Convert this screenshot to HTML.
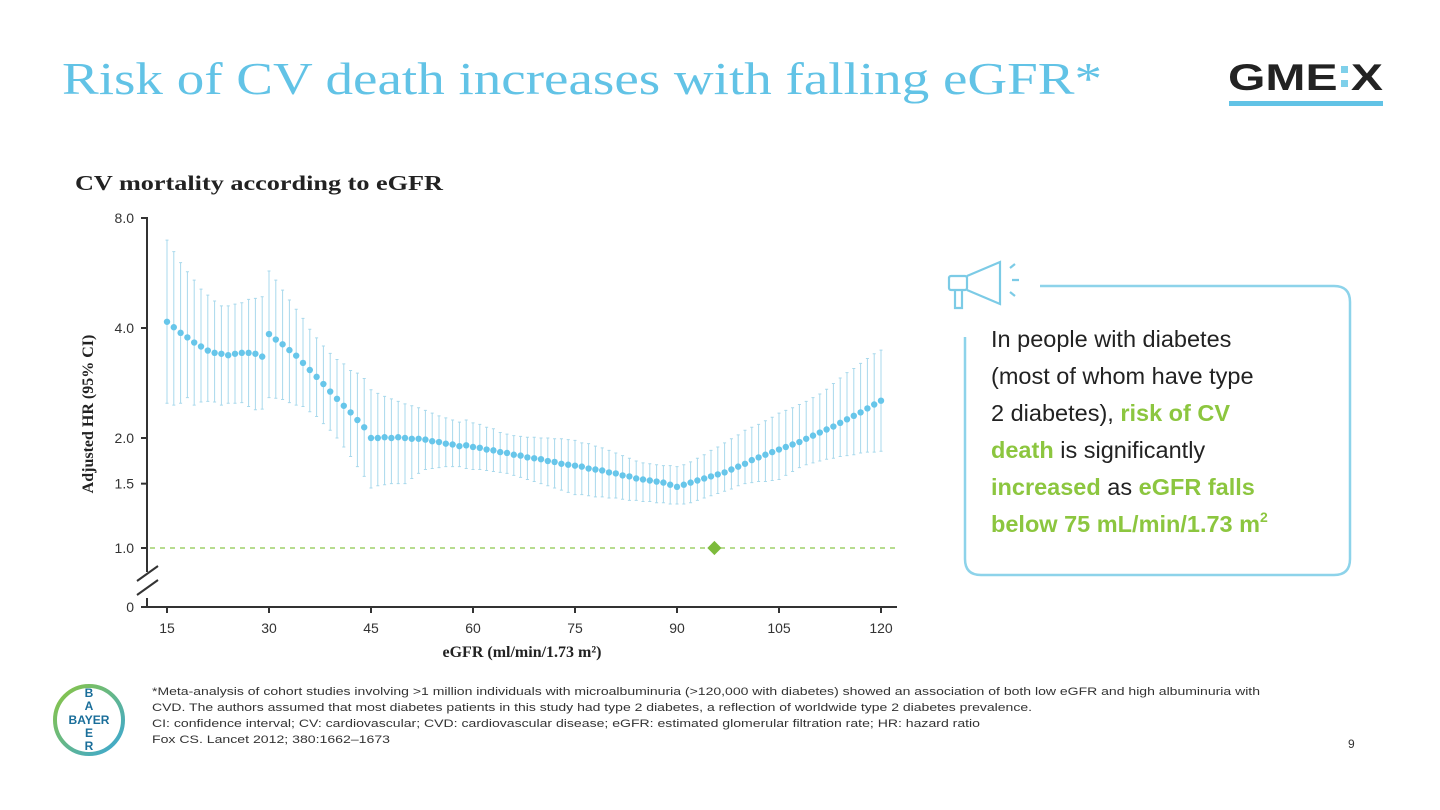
<!DOCTYPE html>
<html><head><meta charset="utf-8"><style>
body{margin:0;background:#fff;width:1440px;height:810px;overflow:hidden}
svg{display:block}
</style></head><body>
<svg id="s" width="1440" height="810" viewBox="0 0 1440 810" xmlns="http://www.w3.org/2000/svg" font-family="Liberation Sans, sans-serif">
<defs><linearGradient id="bg" x1="0" y1="0" x2="1" y2="1"><stop offset="0" stop-color="#8cc63f"/><stop offset="1" stop-color="#3aa7d8"/></linearGradient></defs>
<text x="62" y="94" font-family="Liberation Serif, serif" font-size="46" fill="#62c3e6" textLength="1040" lengthAdjust="spacingAndGlyphs">Risk of CV death increases with falling eGFR*</text>
<g>
<text x="1228" y="90" font-size="37" font-weight="bold" fill="#222" textLength="155" lengthAdjust="spacingAndGlyphs">GME X</text>
<rect x="1341" y="66" width="7" height="7" fill="#7fd0ea"/><rect x="1341" y="80" width="7" height="7" fill="#7fd0ea"/>
<rect x="1229" y="101" width="154" height="5" fill="#62c3e6"/>
</g>
<text x="75" y="190" font-family="Liberation Serif, serif" font-weight="bold" font-size="21" fill="#222" textLength="368" lengthAdjust="spacingAndGlyphs">CV mortality according to eGFR</text>
<g id="chart"></g>
<g>
<path d="M1040 286 H1334 Q1350 286 1350 302 V559 Q1350 575 1334 575 H981 Q965 575 965 559 V337" fill="none" stroke="#8dd3ea" stroke-width="2.5"/>
<g fill="none" stroke="#7ccbe6" stroke-width="2.2">
<rect x="949" y="276" width="18" height="14" rx="2"/><path d="M967 276 L1000 262 V304 L967 290"/><path d="M955 290 V308 H962 V290"/><path d="M1010 268 L1015 264 M1012 280 H1019 M1010 292 L1015 296"/>
</g>
<g font-size="23.5" fill="#222">
<text x="991" y="347">In people with diabetes</text>
<text x="991" y="384">(most of whom have type</text>
<text x="991" y="421">2 diabetes), <tspan fill="#8cc63f" font-weight="bold">risk of CV</tspan></text>
<text x="991" y="458"><tspan fill="#8cc63f" font-weight="bold">death</tspan> is significantly</text>
<text x="991" y="495"><tspan fill="#8cc63f" font-weight="bold">increased</tspan> as <tspan fill="#8cc63f" font-weight="bold">eGFR falls</tspan></text>
<text x="991" y="532" fill="#8cc63f" font-weight="bold">below 75 mL/min/1.73 m<tspan font-size="14" dy="-10">2</tspan></text>
</g></g>
<g>
<circle cx="89" cy="720" r="34" fill="none" stroke="url(#bg)" stroke-width="4"/>
<g font-size="12" font-weight="bold" fill="#1a6e9a" text-anchor="middle">
<text x="89" y="697">B</text><text x="89" y="710">A</text><text x="89" y="724">BAYER</text><text x="89" y="737">E</text><text x="89" y="750">R</text></g></g>
<g font-size="11" fill="#333">
<text x="152" y="695" textLength="1108" lengthAdjust="spacingAndGlyphs">*Meta-analysis of cohort studies involving &gt;1 million individuals with microalbuminuria (&gt;120,000 with diabetes) showed an association of both low eGFR and high albuminuria with</text>
<text x="152" y="711" textLength="880" lengthAdjust="spacingAndGlyphs">CVD. The authors assumed that most diabetes patients in this study had type 2 diabetes, a reflection of worldwide type 2 diabetes prevalence.</text>
<text x="152" y="727" textLength="828" lengthAdjust="spacingAndGlyphs">CI: confidence interval; CV: cardiovascular; CVD: cardiovascular disease; eGFR: estimated glomerular filtration rate; HR: hazard ratio</text>
<text x="152" y="743" textLength="238" lengthAdjust="spacingAndGlyphs">Fox CS. Lancet 2012; 380:1662–1673</text>
</g>
<text x="1348" y="748" font-size="12" fill="#333">9</text>
</svg>
<script>
const startX = [15, 30, 45];
const hrSeg1 = [4.16,4.02,3.88,3.77,3.65,3.56,3.47,3.42,3.40,3.37,3.40,3.42,3.42,3.40,3.34];
const upSeg1 = [6.96,6.47,6.04,5.70,5.41,5.11,4.92,4.74,4.60,4.60,4.65,4.69,4.79,4.82,4.87];
const loSeg1 = [2.49,2.46,2.49,2.58,2.46,2.51,2.52,2.51,2.46,2.49,2.49,2.50,2.44,2.39,2.40];
const hrSeg2 = [3.85,3.72,3.61,3.48,3.36,3.21,3.07,2.94,2.81,2.68,2.56,2.45,2.35,2.24,2.14];
const upSeg2 = [5.73,5.41,5.08,4.77,4.50,4.25,3.97,3.76,3.57,3.41,3.28,3.19,3.06,3.01,2.91];
const loSeg2 = [2.58,2.57,2.55,2.50,2.46,2.44,2.36,2.29,2.19,2.10,2.00,1.89,1.78,1.67,1.57];
const hrSeg3 = [2.00,2.00,2.01,2.00,2.01,2.00,1.99,1.99,1.98,1.96,1.95,1.93,1.92,1.90,1.91,1.89,
1.88,1.86,1.85,1.83,1.82,1.80,1.79,1.77,1.76,1.75,1.73,1.72,1.70,1.69,1.68,1.67,1.65,1.64,1.63,1.61,
1.60,1.58,1.57,1.55,1.54,1.53,1.52,1.51,1.49,1.47,1.49,1.51,1.53,1.55,1.57,1.59,1.61,1.64,1.67,1.70,
1.74,1.77,1.80,1.83,1.86,1.89,1.92,1.95,1.99,2.03,2.07,2.11,2.15,2.20,2.25,2.30,2.35,2.41,2.47,2.53];
const upSeg3 = [2.71,2.65,2.60,2.56,2.52,2.48,2.45,2.42,2.38,2.34,2.30,2.27,2.24,2.21,2.24,2.20,
2.18,2.14,2.12,2.07,2.05,2.03,2.02,2.01,2.01,2.00,2.00,1.99,1.99,1.98,1.97,1.94,1.93,1.90,1.88,1.85,
1.82,1.79,1.76,1.73,1.71,1.70,1.69,1.68,1.68,1.67,1.69,1.72,1.76,1.80,1.85,1.89,1.94,1.99,2.04,2.10,
2.14,2.18,2.23,2.28,2.34,2.38,2.42,2.47,2.52,2.58,2.64,2.72,2.82,2.92,3.02,3.10,3.20,3.30,3.40,3.48];
const loSeg3 = [1.46,1.48,1.49,1.50,1.50,1.50,1.55,1.60,1.64,1.65,1.66,1.67,1.67,1.67,1.65,1.64,
1.64,1.63,1.62,1.61,1.60,1.58,1.56,1.54,1.52,1.50,1.48,1.46,1.44,1.42,1.40,1.40,1.39,1.38,1.38,1.37,
1.37,1.36,1.35,1.35,1.34,1.34,1.33,1.33,1.32,1.32,1.32,1.33,1.35,1.37,1.39,1.41,1.43,1.45,1.48,1.50,
1.51,1.52,1.52,1.53,1.54,1.58,1.62,1.66,1.69,1.71,1.73,1.75,1.76,1.78,1.79,1.80,1.82,1.83,1.83,1.84];
const xTicks = [15,30,45,60,75,90,105,120];
const yTicks = [1.0,1.5,2.0,4.0,8.0];
const yTickLabels = ["1.0","1.5","2.0","4.0","8.0"];
const refX = 95.5, refHR = 1.0;

const NS='http://www.w3.org/2000/svg';
const g=document.getElementById('chart');
const X=v=>167+(v-15)*6.8;
const Y=v=>548-110*Math.log2(v);
function mk(tag,at,parent){const e=document.createElementNS(NS,tag);for(const k in at)e.setAttribute(k,at[k]);(parent||g).appendChild(e);return e;}
// axes
let e=mk('path',{d:'M147 217 V572 M147 598 V607 H897',stroke:'#333','stroke-width':2,fill:'none'});


e=mk('path',{d:'M137 581 L158 566 M137 595 L158 580',stroke:'#333','stroke-width':2,fill:'none'});


yTicks.forEach((t,i)=>{
 mk('line',{x1:141,x2:147,y1:Y(t),y2:Y(t),stroke:'#333','stroke-width':2});
 const tx=mk('text',{x:134,y:Y(t)+5,'text-anchor':'end','font-size':14,fill:'#333'});tx.textContent=yTickLabels[i];
 
 
});
mk('line',{x1:141,x2:147,y1:607,y2:607,stroke:'#333','stroke-width':2});
let z=mk('text',{x:134,y:612,'text-anchor':'end','font-size':14,fill:'#333'});z.textContent='0';
xTicks.forEach(t=>{
 mk('line',{x1:X(t),x2:X(t),y1:607,y2:613,stroke:'#333','stroke-width':2});
 const tx=mk('text',{x:X(t),y:633,'text-anchor':'middle','font-size':14,fill:'#333'});tx.textContent=t;
 
 
});
e=mk('text',{x:522,y:657,'text-anchor':'middle','font-size':16,'font-weight':'bold','font-family':'Liberation Serif, serif',fill:'#222'});
e.textContent='eGFR (ml/min/1.73 m²)';


e=mk('text',{x:0,y:0,'text-anchor':'middle','font-size':16,'font-weight':'bold','font-family':'Liberation Serif, serif',fill:'#222',transform:'translate(93,414) rotate(-90)'});
e.textContent='Adjusted HR (95% CI)';


// reference line
e=mk('line',{x1:150,x2:898,y1:Y(refHR),y2:Y(refHR),stroke:'#9fd06a','stroke-width':1.5,'stroke-dasharray':'5 5'});


e=mk('rect',{x:X(refX)-5,y:Y(refHR)-5,width:10,height:10,fill:'#7dbb3c',transform:`rotate(45 ${X(refX)} ${Y(refHR)})`});


// series
const segs=[[hrSeg1,upSeg1,loSeg1],[hrSeg2,upSeg2,loSeg2],[hrSeg3,upSeg3,loSeg3]];
segs.forEach((s,si)=>{
 const grp=mk('g',{});
 
 
 s[0].forEach((v,i)=>{
  const x=X(startX[si]+i);
  const l=mk('path',{d:`M${x} ${Y(s[1][i])} V${Y(s[2][i])} M${x-1.5} ${Y(s[1][i])} H${x+1.5} M${x-1.5} ${Y(s[2][i])} H${x+1.5}`,stroke:'#a9d9ec','stroke-width':1,fill:'none'},grp);
  
  
 });
 s[0].forEach((v,i)=>{
  const c=mk('circle',{cx:X(startX[si]+i),cy:Y(v),r:3.2,fill:'#67c6ea'},grp);
  
  
 });
});
</script>
</body></html>
